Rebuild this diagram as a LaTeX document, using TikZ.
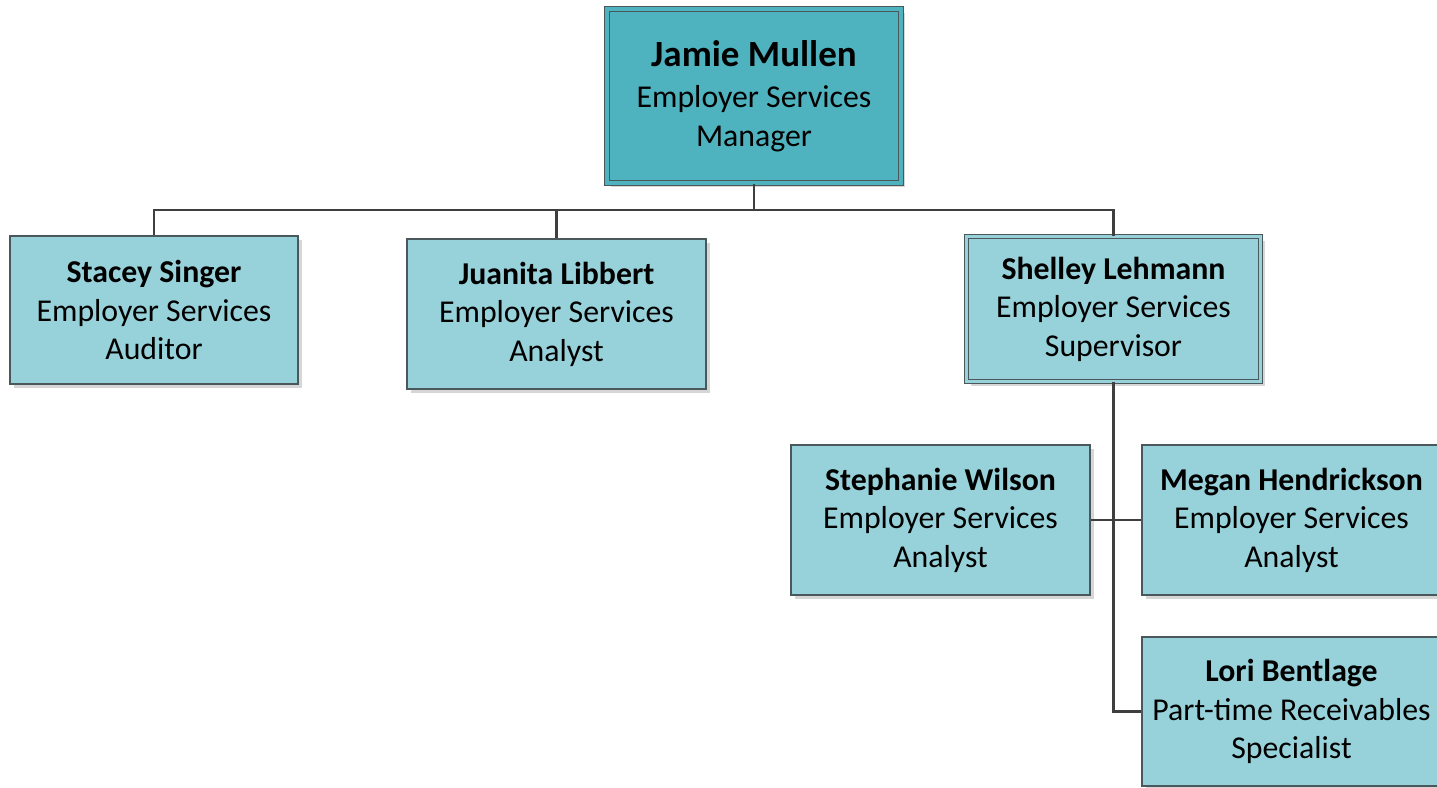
\documentclass[tikz,border=0pt]{standalone}
\usepackage{fontspec}
\setmainfont{Carlito}
\usetikzlibrary{shadows}
\definecolor{boxfill}{HTML}{97D2DA}
\definecolor{topfill}{HTML}{4FB3BF}
\definecolor{boxline}{HTML}{4A585C}
\definecolor{wire}{HTML}{3F3F3F}
\tikzset{
  person/.style={draw=boxline, line width=1.3pt, fill=boxfill, inner sep=0pt,
    align=center, minimum width=299pt, minimum height=150pt,
    font=\fontsize{31.8}{38.5}\selectfont,
    drop shadow={shadow xshift=4pt, shadow yshift=-4pt, fill=black!16, opacity=1}},
  lead/.style={double=#1, double distance=3.6pt, line width=1.1pt},
  wireline/.style={draw=wire, line width=2.6pt}
}
\begin{document}
\begin{tikzpicture}[x=1pt, y=-1pt]
  \fill[white] (0,0) rectangle (1437,787);
  \useasboundingbox (0,0) rectangle (1437,787);

  % manager
  \node[person, lead=topfill, fill=topfill, minimum width=294pt, minimum height=174pt] (jamie) at (754,96)
    {{\fontsize{37}{42}\selectfont\bfseries Jamie Mullen}\\[3pt]Employer Services\\Manager};

  % direct reports
  \node[person, minimum width=288pt, minimum height=148pt] (stacey) at (154,310)
    {\bfseries Stacey Singer\\Employer Services\\Auditor};
  \node[person] (juanita) at (556.5,314)
    {\bfseries Juanita Libbert\\Employer Services\\Analyst};
  \node[person, lead=boxfill, minimum width=294pt, minimum height=145pt] (shelley) at (1113.5,309)
    {\bfseries Shelley Lehmann\\Employer Services\\Supervisor};

  % supervisor's team
  \node[person] (stephanie) at (940.5,520)
    {\bfseries Stephanie Wilson\\Employer Services\\Analyst};
  \node[person] (megan) at (1291.5,520)
    {\bfseries Megan Hendrickson\\Employer Services\\Analyst};
  \node[person, minimum height=149pt] (lori) at (1291.5,711.5)
    {\bfseries Lori Bentlage\\Part-time Receivables\\Specialist};

  % connectors
  \coordinate (bus) at (0,210);
  \draw[wireline] (jamie.south) -- (jamie.south |- bus);
  \draw[wireline] (stacey.north) -- (stacey.north |- bus) -- (shelley.north |- bus) -- (shelley.north);
  \draw[wireline] (juanita.north) -- (juanita.north |- bus);
  \draw[wireline] (shelley.south) -- (shelley.south |- lori.west) -- (lori.west);
  \draw[wireline] (stephanie.east) -- (megan.west);
\end{tikzpicture}
\end{document}
